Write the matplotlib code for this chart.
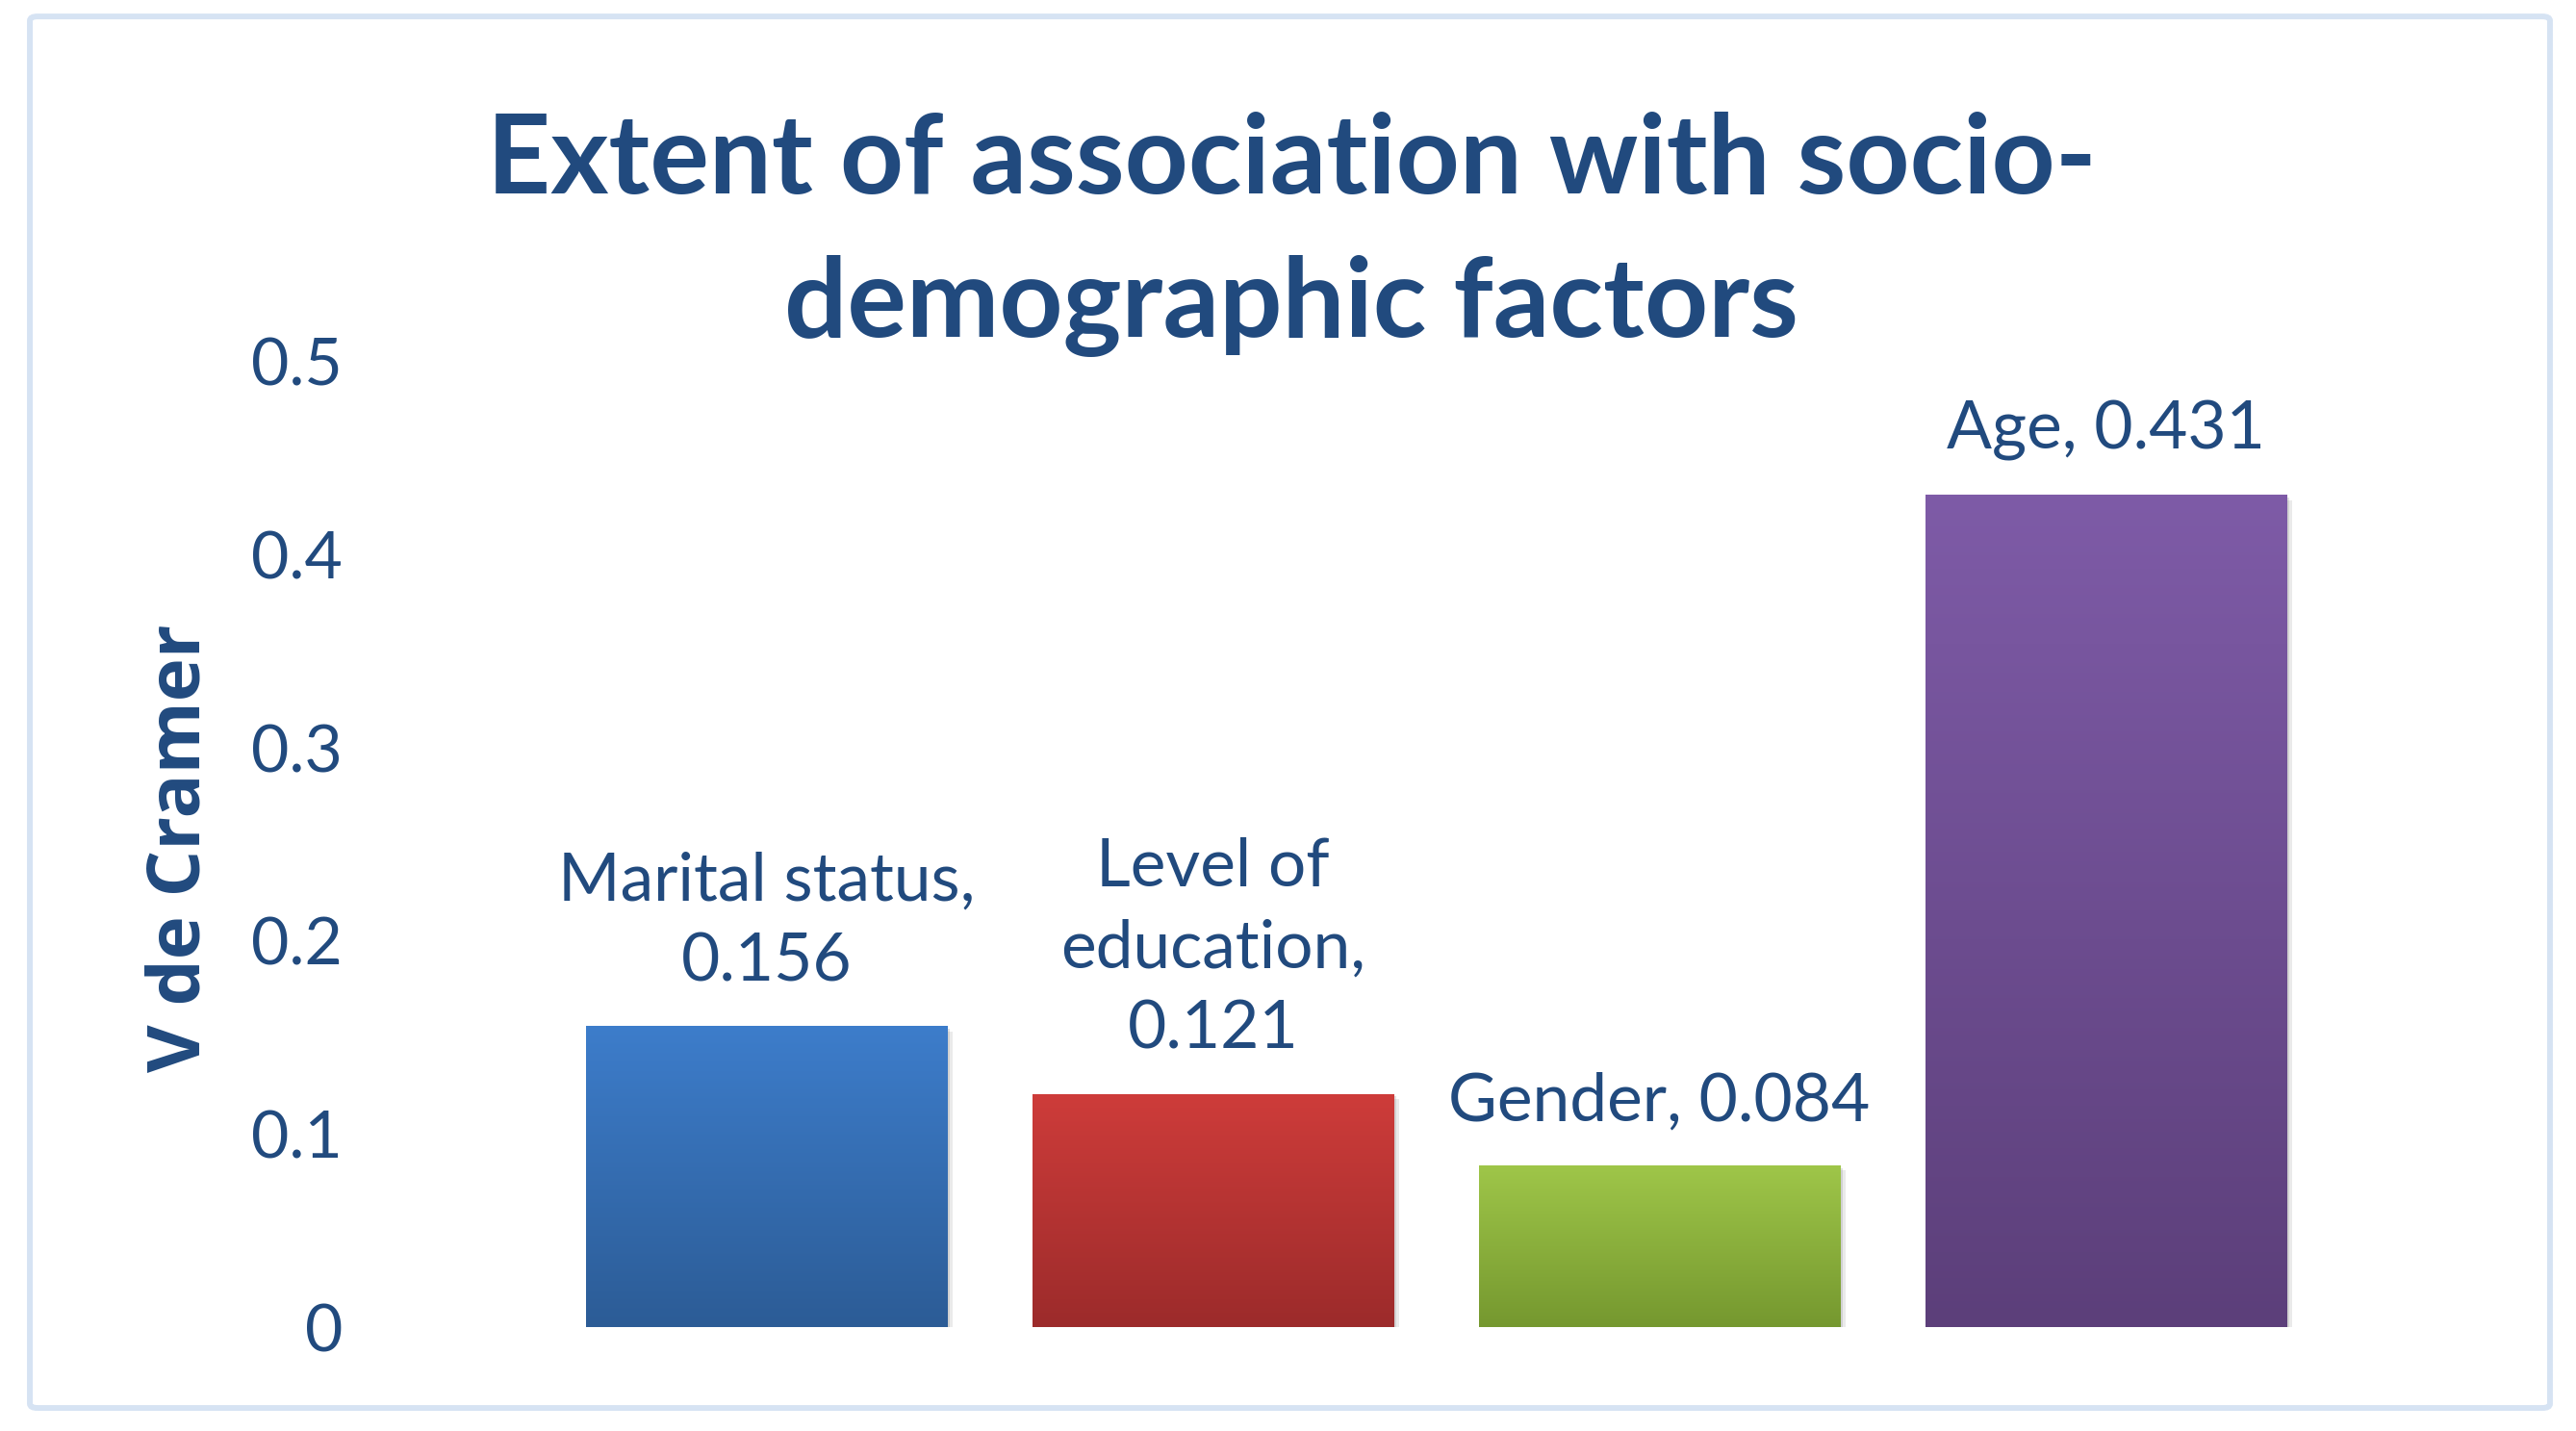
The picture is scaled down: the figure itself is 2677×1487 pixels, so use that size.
import numpy as np
import matplotlib
matplotlib.use("Agg")
import matplotlib.pyplot as plt
import matplotlib.patheffects as pe
from matplotlib.colors import LinearSegmentedColormap
from matplotlib.patches import FancyBboxPatch

factors = ["Marital status", "Level of education", "Gender", "Age"]
cramer_v = [0.156, 0.121, 0.084, 0.431]
label_texts = ["Marital status,\n0.156", "Level of\neducation,\n0.121",
               "Gender, 0.084", "Age, 0.431"]
top_colors = ["#3D7DCB", "#CE3C3A", "#9FC649", "#7E5BA7"]
bottom_colors = ["#2C5C96", "#9C2B2B", "#75982F", "#5C3F7A"]
yticks = [0, 0.1, 0.2, 0.3, 0.4, 0.5]

text_col = "#214A7E"

fig = plt.figure(figsize=(26.77, 14.87), dpi=100)
ax = fig.add_axes([0.2109, 0.0723, 0.6933, 0.6751])

x = np.arange(len(factors))
bars = ax.bar(x, cramer_v, width=0.81, color=bottom_colors, zorder=2)

grad = np.linspace(0, 1, 256).reshape(-1, 1)
for b, c_top, c_bot in zip(bars, top_colors, bottom_colors):
    b.set_path_effects([pe.SimplePatchShadow(offset=(4, -4), shadow_rgbFace="#999999", alpha=0.2),
                        pe.SimplePatchShadow(offset=(2, -2), shadow_rgbFace="#888888", alpha=0.25),
                        pe.Normal()])
    cmap = LinearSegmentedColormap.from_list("g", [c_bot, c_top])
    x0, w, h = b.get_x(), b.get_width(), b.get_height()
    im = ax.imshow(grad, cmap=cmap, aspect="auto", origin="lower",
                   extent=[x0, x0 + w, 0, h], zorder=3)
    im.set_clip_path(b)

for xi, v, t in zip(x, cramer_v, label_texts):
    ax.annotate(t, (xi, v), xytext=(0, 25), textcoords="offset points",
                ha="center", va="bottom", fontsize=50, family="Lato",
                color=text_col, linespacing=1.42)

ax.set_xlim(-0.5, 3.5)
ax.set_ylim(0, 0.5)
ax.set_xticks([])
ax.set_yticks(yticks)
ax.set_yticklabels(["0", "0.1", "0.2", "0.3", "0.4", "0.5"])
ax.tick_params(axis="y", length=0, pad=150, labelsize=49, labelcolor=text_col)
for lab in ax.get_yticklabels():
    lab.set_family("Lato")
for s in ax.spines.values():
    s.set_visible(False)

fig.text(0.0702, 0.4075, "V de Cramer", rotation=90, ha="center", va="center",
         fontsize=55, fontweight="bold", family=["Open Sans", "DejaVu Sans"],
         color=text_col)

fig.text(0.5013, 0.887, "Extent of association with socio-", ha="center", va="center",
         fontsize=83, fontweight="bold", family="Lato", color=text_col)
fig.text(0.5013, 0.786, "demographic factors", ha="center", va="center",
         fontsize=83, fontweight="bold", family="Lato", color=text_col)

border = FancyBboxPatch((0.0116, 0.0161), 0.9783, 0.9724,
                        boxstyle="round,pad=0,rounding_size=0.003",
                        transform=fig.transFigure, fill=False,
                        edgecolor="#D6E3F3", linewidth=4.3)
fig.patches.append(border)

fig.savefig("out.png", dpi=100)
